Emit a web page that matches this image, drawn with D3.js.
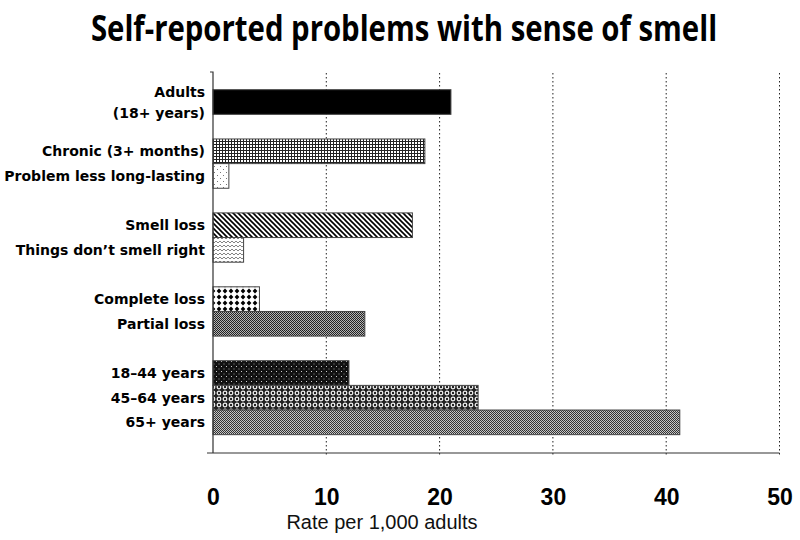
<!DOCTYPE html>
<html>
<head>
<meta charset="utf-8">
<script src="https://cdn.jsdelivr.net/npm/d3@7/dist/d3.min.js"></script>
<style>
  html, body { margin: 0; padding: 0; background: #fff; }
  svg { display: block; }
</style>
</head>
<body>
<svg id="chart" width="800" height="540"></svg>
<script>
// ---- data ----
const categories = [
  "Adults\n(18+ years)",
  "Chronic (3+ months)",
  "Problem less long-lasting",
  "Smell loss",
  "Things don\u2019t smell right",
  "Complete loss",
  "Partial loss",
  "18\u201344 years",
  "45\u201364 years",
  "65+ years"
];
const groups = [0, 1, 1, 2, 2, 3, 3, 4, 4, 4];
const values = [21.0, 18.7, 1.4, 17.6, 2.7, 4.1, 13.4, 12.0, 23.4, 41.2];
const patterns = ["solid", "grid", "sparseDots", "diag", "wavy", "bigDots", "checker", "blackDots", "rings", "checker2"];
const xTicks = [0, 10, 20, 30, 40, 50];
const title = "Self-reported problems with sense of smell";
const xTitle = "Rate per 1,000 adults";

// ---- layout ----
const svg = d3.select("#chart");
const x0 = 213, x1 = 779.5;
const axisY = 453, axisTop = 72;
const slots = categories.map((c, i) => i + groups[i]);
const nSlots = d3.max(slots) + 1;

const x = d3.scaleLinear().domain([0, 50]).range([x0, x1]);
const y = d3.scaleBand().domain(d3.range(nSlots)).range([89.7, 89.7 + nSlots * 24.64]).padding(0);

// ---- patterns ----
const defs = svg.append("defs");
function pat(id, w, h, bg) {
  const p = defs.append("pattern").attr("id", id).attr("patternUnits", "userSpaceOnUse")
    .attr("width", w).attr("height", h);
  p.append("rect").attr("width", w).attr("height", h).attr("fill", bg);
  return p;
}
function px(p, xx, yy, c) {
  p.append("rect").attr("x", xx).attr("y", yy).attr("width", 1).attr("height", 1).attr("fill", c);
}
// grid
{
  const p = pat("grid", 3, 3, "#fff");
  p.append("rect").attr("x", 0).attr("y", 0).attr("width", 3).attr("height", 1).attr("fill", "#222");
  p.append("rect").attr("x", 0).attr("y", 0).attr("width", 1).attr("height", 3).attr("fill", "#222");
}
// sparse dots
{
  const p = pat("sparseDots", 6, 6, "#fff");
  px(p, 1, 1, "#777");
  px(p, 4, 4, "#777");
}
// diagonal lines "\"
{
  const p = pat("diag", 5, 5, "#fff");
  p.append("path").attr("d", "M-1,-1 L6,6 M-1,4 L1,6 M4,-1 L6,1").attr("stroke", "#000").attr("stroke-width", 1.6);
}
// wavy fine
{
  const p = pat("wavy", 4, 4, "#fff");
  p.append("path").attr("d", "M0,1 L2,3 L4,1").attr("stroke", "#666").attr("stroke-width", 0.8).attr("fill", "none");
}
// big dots
{
  const p = pat("bigDots", 6, 6, "#fff");
  p.append("path").attr("d", "M3,0.6 L5.4,3 L3,5.4 L0.6,3 Z").attr("fill", "#000");
}
// checker (partial loss)
{
  const p = pat("checker", 2, 2, "#fff");
  px(p, 0, 0, "#222");
  px(p, 1, 1, "#222");
  px(p, 1, 0, "#aaa");
  px(p, 0, 1, "#bbb");
}
// checker (65+)
{
  const p = pat("checker2", 2, 2, "#fff");
  px(p, 0, 0, "#333");
  px(p, 1, 1, "#333");
  px(p, 1, 0, "#bbb");
  px(p, 0, 1, "#ccc");
}
// black with white dots
{
  const p = pat("blackDots", 5, 5, "#111");
  px(p, 1, 1, "#ccc");
  px(p, 3.5, 3.5, "#999");
}
// rings
{
  const p = pat("rings", 6, 6, "#222");
  p.append("circle").attr("cx", 3).attr("cy", 3).attr("r", 1.8).attr("fill", "none").attr("stroke", "#f4f4f4").attr("stroke-width", 1.2);
}

// ---- title ----
svg.append("text")
  .attr("transform", "translate(404,41) scale(0.815,1)")
  .attr("text-anchor", "middle")
  .attr("font-family", "'Open Sans', sans-serif")
  .attr("font-weight", 700)
  .attr("font-size", 36)
  .attr("fill", "#000")
  .text(title);

// ---- gridlines ----
svg.append("g").selectAll("line")
  .data(xTicks.filter(d => d > 0))
  .join("line")
  .attr("x1", d => x(d)).attr("x2", d => x(d))
  .attr("y1", axisTop + 1).attr("y2", axisY + 3)
  .attr("stroke", "#222").attr("stroke-width", 1)
  .attr("stroke-dasharray", "1.5,2.5");

// ---- bars ----
svg.append("g").selectAll("rect")
  .data(values)
  .join("rect")
  .attr("x", x(0))
  .attr("y", (d, i) => y(slots[i]))
  .attr("width", d => x(d) - x(0))
  .attr("height", y.bandwidth())
  .attr("fill", (d, i) => patterns[i] === "solid" ? "#000" : `url(#${patterns[i]})`)
  .attr("stroke", "#444")
  .attr("stroke-width", 1);

// ---- axes ----
const xAxis = d3.axisBottom(x).tickValues(xTicks).tickSize(0).tickPadding(36).tickFormat(d3.format("d"));
const gx = svg.append("g").attr("transform", `translate(0,${axisY})`).call(xAxis);
gx.select(".domain").remove();
gx.selectAll("text")
  .attr("font-family", "'Liberation Sans', Arial, sans-serif")
  .attr("font-weight", 700)
  .attr("font-size", 23)
  .attr("fill", "#000");

svg.append("line")
  .attr("x1", x0 - 6).attr("x2", x1)
  .attr("y1", axisY).attr("y2", axisY)
  .attr("stroke", "#333").attr("stroke-width", 1.2);
svg.append("path")
  .attr("d", `M${x0 - 3},${axisTop} H${x0} V${axisY}`)
  .attr("fill", "none").attr("stroke", "#333").attr("stroke-width", 1.2);

// y labels
const gy = svg.append("g");
categories.forEach((c, i) => {
  const lines = c.split("\n");
  const cy = y(slots[i]) + y.bandwidth() / 2;
  const lh = 21;
  lines.forEach((ln, k) => {
    gy.append("text")
      .attr("x", 205)
      .attr("y", cy + (k - (lines.length - 1) / 2) * lh)
      .attr("dy", "0.36em")
      .attr("text-anchor", "end")
      .attr("font-family", "'DejaVu Sans', Verdana, sans-serif")
      .attr("font-weight", 700)
      .attr("font-size", 14)
      .attr("fill", "#000")
      .text(ln);
  });
});

// x title
svg.append("text")
  .attr("x", 382).attr("y", 529)
  .attr("text-anchor", "middle")
  .attr("font-family", "'Liberation Sans', Arial, sans-serif")
  .attr("font-size", 20)
  .attr("fill", "#111")
  .text(xTitle);
</script>
</body>
</html>
